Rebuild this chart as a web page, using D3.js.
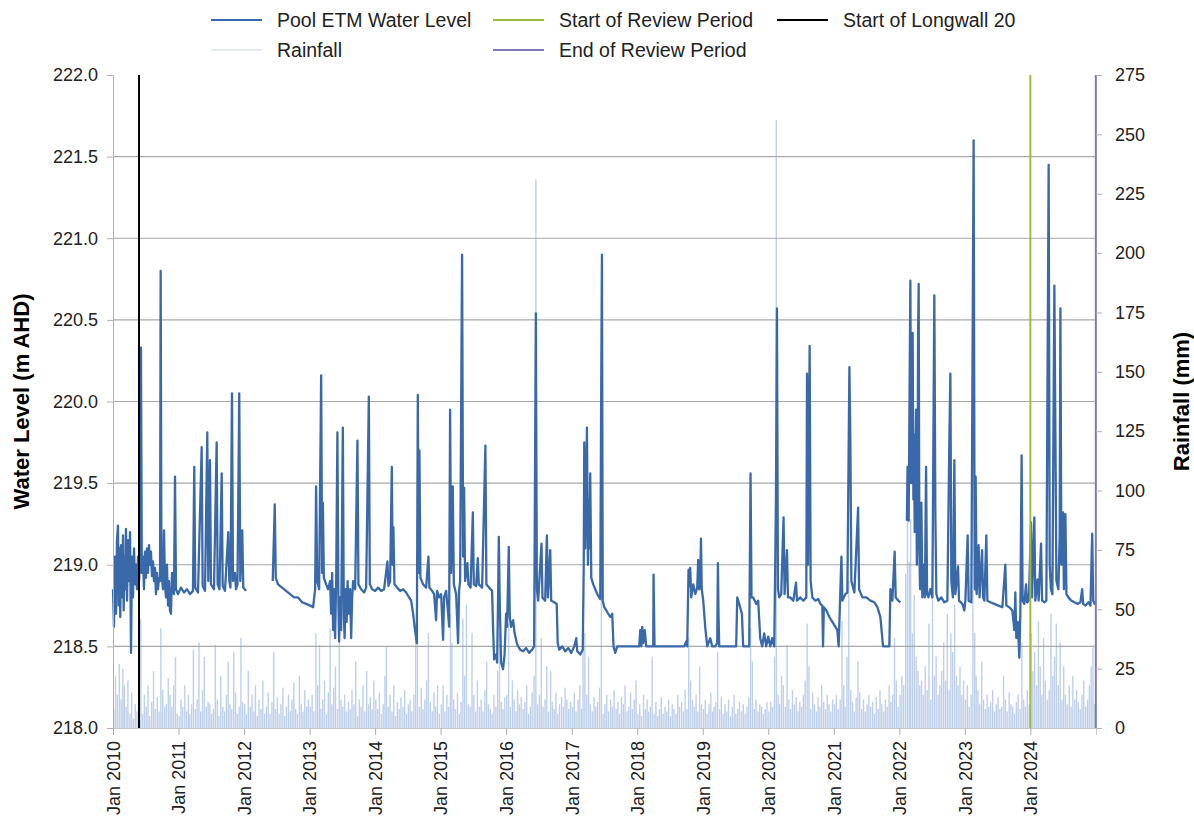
<!DOCTYPE html>
<html>
<head>
<meta charset="utf-8">
<script src="https://cdn.jsdelivr.net/npm/d3@7"></script>
<style>
  body { margin: 0; background: #fff; }
  svg text { font-family: "Liberation Sans", Arial, sans-serif; }
</style>
</head>
<body>
<div id="chart"></div>
<script>
// Pool ETM water level, [decimal year, m AHD]; three logged periods
const levelSeg1 = [
  [2010.000,218.85],[2010.015,218.62],[2010.031,219.05],[2010.046,218.70],[2010.061,219.15],[2010.076,219.24],
  [2010.087,218.75],[2010.099,219.10],[2010.111,218.68],[2010.122,219.12],[2010.137,218.80],[2010.153,219.18],
  [2010.163,218.72],[2010.176,219.05],[2010.188,218.85],[2010.198,219.22],[2010.214,218.78],[2010.229,219.15],
  [2010.244,218.90],[2010.260,219.20],[2010.275,218.46],[2010.290,219.05],[2010.305,218.80],[2010.321,219.10],
  [2010.336,218.88],[2010.351,219.00],[2010.366,218.85],[2010.382,219.05],[2010.397,218.90],[2010.412,219.00],
  [2010.427,220.33],[2010.440,218.95],[2010.458,219.05],[2010.473,218.85],[2010.489,219.08],[2010.504,218.92],
  [2010.519,219.10],[2010.534,218.95],[2010.550,219.12],[2010.565,219.00],[2010.580,219.08],[2010.595,218.93],
  [2010.611,219.02],[2010.626,218.90],[2010.641,218.98],[2010.656,218.82],[2010.672,218.95],[2010.687,218.85],
  [2010.702,218.92],[2010.718,218.90],[2010.728,220.80],[2010.740,218.95],[2010.763,218.85],[2010.779,219.21],
  [2010.794,218.88],[2010.809,218.80],[2010.824,219.00],[2010.840,218.75],[2010.855,218.90],[2010.870,218.72],
  [2010.885,218.70],[2010.901,218.95],[2010.916,218.85],[2010.931,218.82],[2010.947,219.54],[2010.962,218.85],
  [2010.992,218.82],[2011.038,218.86],[2011.084,218.83],[2011.130,218.85],[2011.176,218.82],[2011.221,218.84],
  [2011.241,219.60],[2011.256,218.86],[2011.298,218.83],[2011.354,219.72],[2011.369,218.87],[2011.405,218.84],
  [2011.440,219.81],[2011.455,218.90],[2011.481,219.64],[2011.496,218.88],[2011.542,218.85],[2011.583,219.75],
  [2011.598,218.88],[2011.626,218.85],[2011.660,219.56],[2011.675,218.87],[2011.710,218.84],[2011.760,219.20],
  [2011.776,218.90],[2011.794,218.86],[2011.817,220.05],[2011.832,218.90],[2011.863,218.95],[2011.878,218.85],
  [2011.901,218.88],[2011.928,220.05],[2011.944,218.90],[2011.974,219.21],[2011.989,218.86],[2012.031,218.84]
];

const levelSeg2 = [
  [2012.438,218.90],[2012.469,219.37],[2012.484,218.92],[2012.519,218.88],[2012.580,218.86],[2012.641,218.84],
  [2012.702,218.82],[2012.763,218.80],[2012.824,218.80],[2012.885,218.77],[2012.947,218.76],[2013.008,218.75],
  [2013.053,218.74],[2013.084,218.85],[2013.099,219.48],[2013.115,218.90],[2013.145,218.85],[2013.176,220.16],
  [2013.191,218.95],[2013.202,219.38],[2013.217,218.92],[2013.252,218.88],[2013.282,218.85],[2013.313,218.90],
  [2013.328,218.70],[2013.344,218.95],[2013.359,218.60],[2013.374,218.85],[2013.389,218.55],[2013.405,218.90],
  [2013.424,219.81],[2013.440,218.75],[2013.450,218.53],[2013.466,218.80],[2013.481,218.60],[2013.507,219.84],
  [2013.522,218.70],[2013.534,218.55],[2013.550,218.85],[2013.565,218.65],[2013.580,218.90],[2013.595,218.70],
  [2013.618,218.85],[2013.634,218.55],[2013.649,218.80],[2013.664,218.90],[2013.695,218.85],[2013.730,219.76],
  [2013.745,218.88],[2013.786,218.85],[2013.832,218.83],[2013.863,218.86],[2013.904,220.03],[2013.919,218.88],
  [2013.954,218.85],[2014.000,218.84],[2014.046,218.86],[2014.092,218.84],[2014.137,218.85],[2014.188,219.02],
  [2014.203,218.87],[2014.229,218.90],[2014.255,219.60],[2014.267,219.00],[2014.279,219.23],[2014.295,218.88],
  [2014.336,218.86],[2014.382,218.84],[2014.427,218.85],[2014.473,218.83],[2014.519,218.80],[2014.550,218.78],
  [2014.580,218.70],[2014.603,218.62],[2014.637,218.52],[2014.652,220.04],[2014.664,218.95],[2014.676,219.70],
  [2014.692,218.92],[2014.733,218.88],[2014.779,218.86],[2014.814,219.05],[2014.829,218.86],[2014.870,218.84],
  [2014.901,218.82],[2014.931,218.66],[2014.947,218.84],[2014.977,218.80],[2015.008,218.82],[2015.038,218.54],
  [2015.053,218.80],[2015.084,218.84],[2015.115,218.70],[2015.130,218.62],[2015.145,219.95],[2015.160,218.95],
  [2015.186,219.48],[2015.202,218.88],[2015.237,218.82],[2015.267,218.52],[2015.282,218.84],[2015.298,218.90],
  [2015.328,220.90],[2015.344,219.05],[2015.359,219.47],[2015.374,218.90],[2015.409,219.01],[2015.424,218.88],
  [2015.458,218.86],[2015.492,219.32],[2015.507,218.88],[2015.542,218.87],[2015.568,219.04],[2015.583,218.88],
  [2015.634,218.86],[2015.684,219.73],[2015.699,218.88],[2015.740,218.86],[2015.786,218.84],[2015.802,218.60],
  [2015.817,218.42],[2015.847,218.45],[2015.863,218.40],[2015.878,218.80],[2015.889,219.17],[2015.904,218.75],
  [2015.924,218.40],[2015.939,218.38],[2015.954,218.36],[2015.977,218.45],[2016.000,218.70],[2016.015,218.62],
  [2016.041,219.11],[2016.056,218.68],[2016.076,218.62],[2016.107,218.66],[2016.130,218.58],[2016.163,218.52],
  [2016.183,218.50],[2016.214,218.48],[2016.260,218.47],[2016.305,218.49],[2016.351,218.46],[2016.397,218.48],
  [2016.427,218.50],[2016.453,220.54],[2016.469,218.85],[2016.489,218.78],[2016.539,219.13],[2016.554,218.80],
  [2016.595,218.78],[2016.621,219.18],[2016.637,218.80],[2016.672,219.09],[2016.687,218.78],[2016.733,218.77],
  [2016.771,218.76],[2016.786,218.52],[2016.809,218.48],[2016.855,218.50],[2016.901,218.47],[2016.947,218.49],
  [2016.992,218.46],[2017.038,218.50],[2017.069,218.55],[2017.084,218.47],[2017.130,218.45],[2017.168,218.48],
  [2017.183,219.00],[2017.191,219.75],[2017.206,219.10],[2017.232,219.84],[2017.247,219.00],[2017.260,219.40],
  [2017.267,219.10],[2017.282,219.56],[2017.298,218.92],[2017.328,218.88],[2017.359,218.85],[2017.389,218.82],
  [2017.420,218.80],[2017.435,218.79],[2017.450,220.09],[2017.461,220.90],[2017.473,218.78],[2017.496,218.74],
  [2017.527,218.72],[2017.557,218.70],[2017.588,218.68],[2017.618,218.70],[2017.638,218.50],[2017.664,218.46],
  [2017.695,218.50],[2017.817,218.50],[2017.969,218.50],[2018.031,218.50],[2018.046,218.60],[2018.061,218.50],
  [2018.076,218.62],[2018.092,218.52],[2018.115,218.60],[2018.137,218.50],[2018.244,218.50],[2018.249,218.94],
  [2018.264,218.50],[2018.427,218.50],[2018.580,218.50],[2018.718,218.50],[2018.748,218.53],[2018.763,218.50],
  [2018.783,218.97],[2018.802,218.87],[2018.809,218.98],[2018.824,218.80],[2018.855,218.88],[2018.886,218.82],
  [2018.916,218.86],[2018.931,219.03],[2018.947,218.85],[2018.962,218.90],[2018.973,219.16],[2018.985,218.85],
  [2019.008,218.78],[2019.038,218.62],[2019.069,218.50],[2019.115,218.55],[2019.145,218.50],[2019.191,218.50],
  [2019.221,218.52],[2019.232,219.01],[2019.241,218.70],[2019.252,218.50],[2019.313,218.50],[2019.420,218.50],
  [2019.511,218.50],[2019.527,218.80],[2019.557,218.76],[2019.598,218.70],[2019.618,218.50],[2019.710,218.50],
  [2019.730,219.56],[2019.745,218.80],[2019.771,218.80],[2019.817,218.76],[2019.847,218.78],[2019.878,218.55],
  [2019.908,218.50],[2019.939,218.58],[2019.969,218.50],[2020.000,218.56],[2020.031,218.50],[2020.061,218.55],
  [2020.092,218.50],[2020.118,219.40],[2020.133,220.57],[2020.148,218.85],[2020.168,218.80],[2020.198,218.82],
  [2020.234,219.29],[2020.249,218.82],[2020.286,219.09],[2020.301,218.80],[2020.336,218.80],[2020.382,218.78],
  [2020.423,218.89],[2020.438,218.78],[2020.489,218.80],[2020.534,218.78],[2020.580,218.80],[2020.591,220.17],
  [2020.606,219.00],[2020.631,220.34],[2020.646,218.90],[2020.672,218.80],[2020.718,218.78],[2020.763,218.79],
  [2020.794,218.76],[2020.824,218.75],[2020.835,218.50],[2020.847,218.74],[2020.886,218.72],[2020.931,218.68],
  [2020.977,218.65],[2021.023,218.62],[2021.053,218.60],[2021.073,218.50],[2021.092,218.75],[2021.115,219.05],
  [2021.130,218.78],[2021.176,218.82],[2021.206,218.83],[2021.237,220.21],[2021.252,219.75],[2021.267,218.90],
  [2021.313,218.83],[2021.370,219.35],[2021.385,218.85],[2021.435,218.80],[2021.496,218.80],[2021.557,218.78],
  [2021.618,218.77],[2021.664,218.74],[2021.710,218.68],[2021.751,218.50],[2021.802,218.50],[2021.847,218.50],
  [2021.863,218.85],[2021.893,218.78],[2021.928,219.08],[2021.944,218.80],[2021.985,218.78],[2022.015,218.77]
];

const levelSeg3 = [
  [2022.115,219.27],[2022.125,219.60],[2022.134,219.30],[2022.142,219.27],[2022.153,219.90],[2022.168,220.74],
  [2022.180,219.50],[2022.191,220.10],[2022.203,220.42],[2022.214,219.40],[2022.224,219.80],[2022.234,219.20],
  [2022.244,219.60],[2022.255,219.95],[2022.267,219.00],[2022.278,219.40],[2022.286,220.42],[2022.295,220.72],
  [2022.305,219.10],[2022.316,218.85],[2022.336,219.38],[2022.351,218.80],[2022.374,219.00],[2022.389,218.80],
  [2022.408,219.60],[2022.423,218.82],[2022.443,218.80],[2022.473,218.85],[2022.504,218.80],[2022.534,220.65],
  [2022.550,219.29],[2022.565,218.82],[2022.595,218.78],[2022.641,218.80],[2022.687,218.77],[2022.733,218.78],
  [2022.763,219.75],[2022.779,220.17],[2022.794,218.90],[2022.817,218.80],[2022.840,219.64],[2022.855,218.82],
  [2022.896,218.99],[2022.911,218.78],[2022.962,218.76],[2022.992,218.72],[2023.008,218.78],[2023.043,219.18],
  [2023.058,218.78],[2023.099,218.77],[2023.134,221.60],[2023.150,218.85],[2023.165,219.54],[2023.180,218.82],
  [2023.211,219.12],[2023.224,218.80],[2023.263,219.09],[2023.278,218.80],[2023.298,218.78],[2023.328,219.18],
  [2023.344,218.78],[2023.389,218.77],[2023.450,218.76],[2023.511,218.75],[2023.573,218.74],[2023.618,219.00],
  [2023.634,218.75],[2023.679,218.74],[2023.725,218.72],[2023.756,218.60],[2023.771,218.83],[2023.786,218.55],
  [2023.809,218.65],[2023.832,218.43],[2023.847,218.70],[2023.867,219.67],[2023.882,218.78],[2023.908,218.76],
  [2023.934,218.88],[2023.950,218.77],[2023.977,218.78],[2024.011,219.26],[2024.026,218.80],[2024.061,219.29],
  [2024.076,218.78],[2024.111,218.91],[2024.127,218.78],[2024.163,219.13],[2024.179,218.78],[2024.214,218.77],
  [2024.244,218.78],[2024.279,221.45],[2024.295,219.00],[2024.313,218.85],[2024.336,218.82],[2024.366,220.71],
  [2024.382,219.78],[2024.397,218.90],[2024.427,218.85],[2024.447,219.17],[2024.458,220.57],[2024.473,219.00],
  [2024.499,219.32],[2024.511,218.85],[2024.534,219.31],[2024.550,218.82],[2024.580,218.80],[2024.626,218.78],
  [2024.672,218.77],[2024.718,218.76],[2024.763,218.77],[2024.789,218.85],[2024.805,218.76],[2024.840,218.75],
  [2024.886,218.77],[2024.916,218.75],[2024.942,219.19],[2024.957,218.78],[2024.977,218.76],[2024.998,218.77]
];

// rainfall (mm), one reading per ten-day period (5th, 15th, 25th of each month)
const rain2010 = [8,22,14,27,12,25,18,9,20,6,15,4,10,7,12,46,6,14,9,18,5,11,24,8,13,7,42,16,9,10,21,14,9,18,30,6];
const rain2011 = [5,12,9,18,7,14,6,10,33,8,12,36,7,16,30,9,11,10,6,8,35,12,5,22,9,7,14,28,10,8,32,15,6,9,38,11];
const rain2012 = [10,6,24,9,14,7,18,5,12,8,20,6,9,15,6,11,32,8,13,6,10,17,5,9,14,7,12,19,8,6,22,10,7,16,9,12];
const rain2013 = [9,14,7,40,18,35,8,12,20,6,15,42,10,17,26,8,46,12,9,14,7,11,8,16,10,28,5,12,9,18,7,24,10,13,8,20];
const rain2014 = [12,8,15,6,10,22,34,9,14,7,18,5,11,8,13,9,16,6,10,12,7,14,38,44,9,17,8,12,20,40,11,7,15,9,18,6];
const rain2015 = [10,18,7,14,9,48,36,12,8,15,6,11,46,22,52,10,9,40,14,7,20,9,12,7,16,28,10,8,6,14,9,24,40,11,8,13];
const rain2016 = [14,44,9,20,12,7,16,10,13,8,11,18,6,9,15,22,231,10,14,38,9,12,26,7,24,11,8,15,6,10,13,9,17,12,8,11];
const rain2017 = [9,15,7,12,18,8,52,40,14,30,10,7,13,9,11,17,58,6,10,14,7,12,9,16,8,11,6,13,10,18,7,9,15,8,12,20];
const rain2018 = [6,10,5,14,8,12,7,9,30,6,11,5,8,13,6,9,7,12,5,10,8,6,14,9,11,7,16,8,38,20,12,9,14,7,26,10];
const rain2019 = [8,12,6,10,15,7,9,11,32,8,13,6,10,7,12,5,9,14,6,8,11,7,10,6,9,13,42,28,8,12,7,10,9,6,8,11];
const rain2020 = [7,11,9,30,256,14,10,22,18,9,35,12,8,16,10,13,7,11,9,14,20,44,26,8,15,10,7,13,9,18,11,8,14,10,7,12];
const rain2021 = [10,14,8,12,45,18,9,30,62,16,11,7,13,28,15,8,12,7,10,14,9,11,6,13,8,16,10,7,12,9,18,11,14,38,20,9];
const rain2022 = [14,22,18,65,95,70,88,40,56,30,24,18,20,14,26,16,44,12,66,22,30,14,18,24,36,20,48,16,40,32,52,22,18,26,14,20];
const rain2023 = [12,18,9,14,58,40,22,16,10,28,12,8,14,9,11,16,7,10,13,8,9,22,12,7,15,10,9,6,11,14,8,36,12,9,16,10];
const rain2024 = [40,24,32,18,45,26,14,38,20,12,16,48,22,30,44,18,36,12,26,14,10,18,9,22,12,16,11,8,14,20,9,12,18,26,34,10];

const rainYears = [2010,2011,2012,2013,2014,2015,2016,2017,2018,2019,2020,2021,2022,2023,2024];
const rainSeries = [rain2010,rain2011,rain2012,rain2013,rain2014,rain2015,rain2016,rain2017,rain2018,rain2019,rain2020,rain2021,rain2022,rain2023,rain2024];

const levelTicks = [218.0,218.5,219.0,219.5,220.0,220.5,221.0,221.5,222.0];
const rainTicks = [0,25,50,75,100,125,150,175,200,225,250,275];
const yearTicks = [2010,2011,2012,2013,2014,2015,2016,2017,2018,2019,2020,2021,2022,2023,2024];

const longwallStart = "2010-05-26";
const reviewStart = "2024-01-01";
const reviewEnd = "2024-12-31";

// helpers
function fromDecYear(t) {
    const yr = Math.floor(t);
    const a = new Date(yr, 0, 1), b = new Date(yr + 1, 0, 1);
    return new Date(+a + (t - yr) * (b - a));
}

let rainfall = [];
rainYears.forEach((yr, k) => {
    rainSeries[k].forEach((mm, i) => {
        rainfall.push({date: new Date(yr, Math.floor(i / 3), 5 + (i % 3) * 10), mm: mm});
    });
});

const width = 1194, height = 830;
const plotL = 113, plotR = 1096, plotT = 75, plotB = 728;

const svg = d3.select("#chart").append("svg")
    .attr("width", width)
    .attr("height", height);

const x = d3.scaleTime()
    .domain([new Date(2010, 0, 1), new Date(2025, 0, 1)])
    .range([plotL, plotR]);
const y = d3.scaleLinear().domain([218, 222]).range([plotB, plotT]);
const yR = d3.scaleLinear().domain([0, 275]).range([plotB, plotT]);

// rainfall bars
svg.append("g").selectAll("rect")
    .data(rainfall)
    .enter()
    .append("rect")
    .attr("x", d => x(d.date) - 0.7)
    .attr("width", 1.4)
    .attr("y", d => yR(d.mm))
    .attr("height", d => plotB - yR(d.mm))
    .attr("fill", "#bed0ea");

// horizontal grid
svg.append("g").selectAll("line")
    .data(levelTicks.filter(v => v > 218 && v < 222))
    .enter()
    .append("line")
    .attr("x1", plotL).attr("x2", plotR)
    .attr("y1", d => y(d)).attr("y2", d => y(d))
    .attr("stroke", "#a8a8a8")
    .attr("stroke-width", 1.2);

// water level
const line = d3.line()
    .x(d => x(fromDecYear(d[0])))
    .y(d => y(d[1]));

svg.append("g").selectAll("path")
    .data([levelSeg1, levelSeg2, levelSeg3])
    .enter()
    .append("path")
    .attr("d", line)
    .attr("fill", "none")
    .attr("stroke", "#3a69aa")
    .attr("stroke-width", 2.3)
    .attr("stroke-linejoin", "round");

// event lines
const parseDay = d3.timeParse("%Y-%m-%d");
const events = [
    {date: longwallStart, color: "#000000"},
    {date: reviewStart, color: "#9cbc3c"},
    {date: reviewEnd, color: "#7f78b8"}
];
svg.append("g").selectAll("line")
    .data(events)
    .enter()
    .append("line")
    .attr("x1", d => x(parseDay(d.date)))
    .attr("x2", d => x(parseDay(d.date)))
    .attr("y1", plotT).attr("y2", plotB)
    .attr("stroke", d => d.color)
    .attr("stroke-width", 2);

// axes
const yAxis = svg.append("g")
    .attr("transform", `translate(${plotL},0)`)
    .call(d3.axisLeft(y).tickValues(levelTicks).tickFormat(d3.format(".1f")).tickSize(6).tickPadding(9));
yAxis.select(".domain").attr("stroke", "#b0b0b0");
yAxis.selectAll(".tick line").attr("stroke", "#b0b0b0");
yAxis.selectAll("text").attr("font-size", 18).attr("fill", "#222");

const yAxisR = svg.append("g")
    .attr("transform", `translate(${plotR},0)`)
    .call(d3.axisRight(yR).tickValues(rainTicks).tickSize(6).tickPadding(13));
yAxisR.select(".domain").remove();
yAxisR.selectAll(".tick line").attr("stroke", "#b0b0b0");
yAxisR.selectAll("text").attr("font-size", 18).attr("fill", "#222");

const xAxis = svg.append("g")
    .attr("transform", `translate(0,${plotB})`)
    .call(d3.axisBottom(x)
        .tickValues(yearTicks.map(yr => new Date(yr, 0, 1)))
        .tickFormat(d3.timeFormat("Jan %Y"))
        .tickSize(7));
xAxis.select(".domain").attr("stroke", "#c8c8c8");
xAxis.selectAll(".tick line").attr("stroke", "#b0b0b0");
xAxis.selectAll("text")
    .attr("font-size", 18)
    .attr("fill", "#222")
    .attr("transform", "rotate(-90)")
    .attr("text-anchor", "end")
    .attr("x", -13)
    .attr("y", 0)
    .attr("dy", "0.35em");

// axis titles
svg.append("text")
    .attr("transform", `translate(29,${(plotT + plotB) / 2}) rotate(-90)`)
    .attr("text-anchor", "middle")
    .attr("font-size", 22)
    .attr("font-weight", "bold")
    .text("Water Level (m AHD)");
svg.append("text")
    .attr("transform", `translate(1189,${(plotT + plotB) / 2}) rotate(-90)`)
    .attr("text-anchor", "middle")
    .attr("font-size", 22)
    .attr("font-weight", "bold")
    .text("Rainfall (mm)");

// legend
const legendItems = [
    {label: "Pool ETM Water Level", color: "#3a69aa", lx: 211, ly: 20},
    {label: "Start of Review Period", color: "#9cbc3c", lx: 493, ly: 20},
    {label: "Start of Longwall 20", color: "#000000", lx: 777, ly: 20},
    {label: "Rainfall", color: "#e4eaf2", lx: 211, ly: 50},
    {label: "End of Review Period", color: "#7f78b8", lx: 493, ly: 50}
];
const lg = svg.append("g").selectAll("g")
    .data(legendItems)
    .enter()
    .append("g")
    .attr("transform", d => `translate(${d.lx},${d.ly})`);
lg.append("line")
    .attr("x1", 0).attr("x2", 51)
    .attr("stroke", d => d.color)
    .attr("stroke-width", 2);
lg.append("text")
    .attr("x", 66)
    .attr("dy", "0.35em")
    .attr("font-size", 19.5)
    .attr("fill", "#222")
    .text(d => d.label);
</script>
</body>
</html>
